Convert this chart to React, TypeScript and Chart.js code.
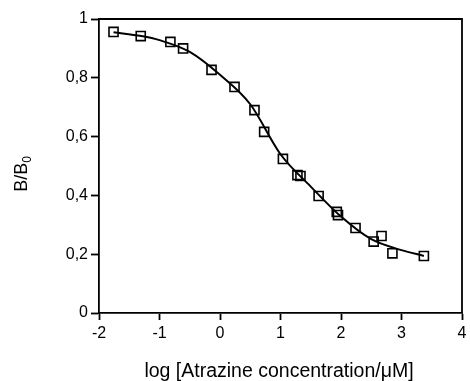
import React, { useEffect, useRef } from "react";
import { Chart, registerables } from "chart.js";

Chart.register(...registerables);

// Measured data (log concentration, B/B0)
const logConc = [-1.76, -1.31, -0.82, -0.61, -0.14, 0.24, 0.57, 0.73, 1.04, 1.28, 1.33, 1.63, 1.93, 1.95, 2.24, 2.54, 2.67, 2.85, 3.37];
const ratio = [0.956, 0.942, 0.922, 0.9, 0.827, 0.769, 0.69, 0.616, 0.524, 0.469, 0.466, 0.398, 0.344, 0.333, 0.289, 0.243, 0.262, 0.203, 0.194];

// Fitted curve
const curveX = [-1.76, -1.3, -1.0, -0.5, 0.0, 0.5, 1.0, 1.5, 2.0, 2.5, 3.0, 3.37];
const curveY = [0.955, 0.942, 0.928, 0.888, 0.81, 0.71, 0.54, 0.43, 0.328, 0.251, 0.214, 0.194];

const xTicks = ["-2", "-1", "0", "1", "2", "3", "4"];
const yTicks = ["0", "0,2", "0,4", "0,6", "0,8", "1"];

const FONT = "'Liberation Sans', Arial, Helvetica, sans-serif";

const framePlugin = {
  id: "frameAndTitles",
  afterDraw(chart: any) {
    const { ctx, chartArea } = chart;
    ctx.save();
    ctx.strokeStyle = "#000";
    ctx.lineWidth = 1.8;
    ctx.beginPath();
    ctx.moveTo(chartArea.left, chartArea.top);
    ctx.lineTo(chartArea.right, chartArea.top);
    ctx.lineTo(chartArea.right, chartArea.bottom);
    ctx.stroke();

    // y title B/B0 with subscript
    ctx.fillStyle = "#000";
    ctx.translate(22, 174);
    ctx.rotate(-Math.PI / 2);
    const main = "B/B";
    ctx.font = `18px ${FONT}`;
    const wMain = ctx.measureText(main).width;
    ctx.font = `12px ${FONT}`;
    const wSub = ctx.measureText("0").width;
    const total = wMain + wSub;
    ctx.textBaseline = "middle";
    ctx.textAlign = "left";
    ctx.font = `18px ${FONT}`;
    ctx.fillText(main, -total / 2, 0);
    ctx.font = `12px ${FONT}`;
    ctx.fillText("0", -total / 2 + wMain, 6);
    ctx.restore();

    // x title
    ctx.save();
    ctx.fillStyle = "#000";
    ctx.font = `19.5px ${FONT}`;
    ctx.textAlign = "center";
    ctx.textBaseline = "middle";
    ctx.fillText("log [Atrazine concentration/\u03BCM]", 279, 372);
    ctx.restore();
  },
};

export default function App() {
  const ref = useRef<HTMLCanvasElement>(null);
  useEffect(() => {
    if (!ref.current) return;
    const chart = new Chart(ref.current, {
      type: "scatter",
      data: {
        datasets: [
          {
            label: "fit",
            data: curveX.map((x, i) => ({ x, y: curveY[i] })),
            showLine: true,
            borderColor: "#000",
            borderWidth: 2,
            pointRadius: 0,
            cubicInterpolationMode: "monotone",
            fill: false,
          },
          {
            label: "data",
            data: logConc.map((x, i) => ({ x, y: ratio[i] })),
            showLine: false,
            pointStyle: "rect",
            pointRadius: 6.4,
            borderColor: "#000",
            borderWidth: 1.6,
            backgroundColor: "rgba(0,0,0,0)",
          },
        ],
      },
      options: {
        responsive: false,
        animation: false,
        layout: { padding: { left: 0, right: 2, top: 19, bottom: 0 } },
        plugins: { legend: { display: false }, tooltip: { enabled: false } },
        scales: {
          x: {
            type: "linear",
            min: -2,
            max: 4,
            afterFit: (s: any) => {
              s.height = 68;
              s.paddingLeft = 0;
              s.paddingRight = 0;
            },
            afterBuildTicks: (s: any) => {
              s.ticks = xTicks.map((t) => ({ value: parseFloat(t) }));
            },
            ticks: {
              color: "#000",
              font: { family: FONT, size: 16 },
              padding: 4,
              maxRotation: 0,
              callback: (v: any) => xTicks[xTicks.indexOf(String(v))] ?? "",
            },
            grid: { drawOnChartArea: false, tickLength: 7, color: "#000", tickWidth: 1.8 },
            border: { color: "#000", width: 1.8 },
          },
          y: {
            type: "linear",
            min: 0,
            max: 1,
            afterFit: (s: any) => {
              s.width = 99;
              s.paddingTop = 0;
              s.paddingBottom = 0;
            },
            afterBuildTicks: (s: any) => {
              s.ticks = yTicks.map((t) => ({ value: parseFloat(t.replace(",", ".")) }));
            },
            ticks: {
              color: "#000",
              font: { family: FONT, size: 16 },
              padding: 3,
              callback: (v: any) => yTicks[Math.round(Number(v) * 5)] ?? "",
            },
            grid: { drawOnChartArea: false, tickLength: 8, color: "#000", tickWidth: 1.8 },
            border: { color: "#000", width: 1.8 },
          },
        },
      },
      plugins: [framePlugin],
    });
    return () => chart.destroy();
  }, []);
  return (
    <div style={{ position: "absolute", left: 0, top: 0, width: 470, height: 381, background: "#fff" }}>
      <canvas ref={ref} width={470} height={381} />
    </div>
  );
}
